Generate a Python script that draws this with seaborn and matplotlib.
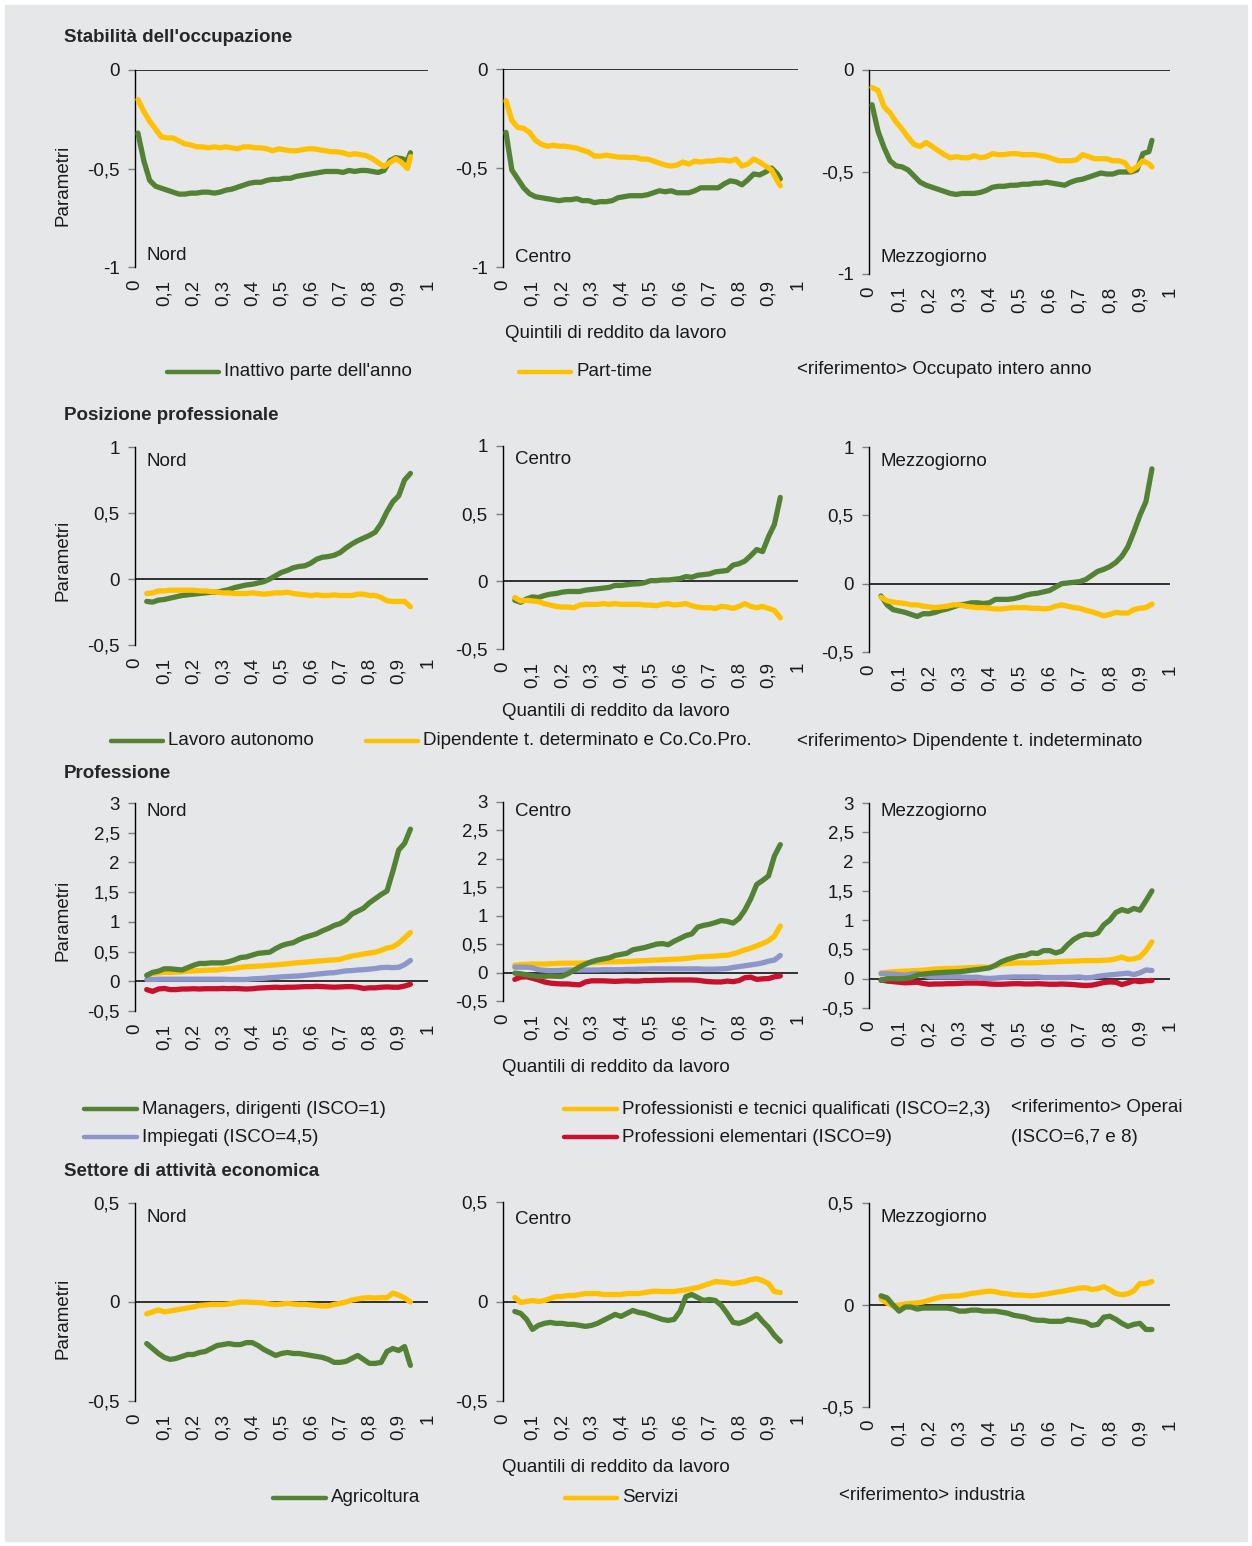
"""Parametri per quantili di reddito da lavoro: 4 blocchi x 3 ripartizioni."""

import matplotlib
matplotlib.use("Agg")
import matplotlib.pyplot as plt
from matplotlib.lines import Line2D
from matplotlib.patches import Rectangle
import numpy as np
import pandas as pd
import seaborn as sns

W, H = 1252, 1546

GREEN = "#548235"
YELLOW = "#FFC000"
LILAC = "#8C96C8"
RED = "#C8102E"
BG = "#E6E7E8"

REGIONS = ["Nord", "Centro", "Mezzogiorno"]

# quantile grids
X1 = np.append(np.arange(1, 95, 2), 94) / 100   # 0.01 .. 0.93, 0.94
X2 = np.arange(4, 96, 2) / 100                  # 0.04 .. 0.94

# --- Stabilità dell'occupazione --------------------------------------------
inattivo = {
    "Nord": [-0.32, -0.46, -0.56, -0.59, -0.60, -0.61, -0.62, -0.63,
             -0.63, -0.625, -0.625, -0.62, -0.62, -0.625, -0.62, -0.61,
             -0.605, -0.595, -0.585, -0.575, -0.57, -0.57, -0.56, -0.555,
             -0.555, -0.55, -0.55, -0.54, -0.535, -0.53, -0.525, -0.52,
             -0.515, -0.515, -0.515, -0.52, -0.51, -0.515, -0.51, -0.51,
             -0.515, -0.52, -0.51, -0.46, -0.445, -0.45, -0.46, -0.42],
    "Centro": [-0.32, -0.51, -0.555, -0.60, -0.63, -0.645, -0.65, -0.655,
               -0.66, -0.665, -0.66, -0.66, -0.655, -0.665, -0.665, -0.675,
               -0.67, -0.67, -0.665, -0.65, -0.645, -0.64, -0.64, -0.64,
               -0.635, -0.625, -0.615, -0.62, -0.615, -0.625, -0.625, -0.625,
               -0.615, -0.60, -0.60, -0.60, -0.60, -0.58, -0.565, -0.57,
               -0.585, -0.56, -0.53, -0.535, -0.52, -0.50, -0.53, -0.555],
    "Mezzogiorno": [-0.17, -0.30, -0.38, -0.445, -0.47, -0.475, -0.49, -0.52,
                    -0.55, -0.565, -0.575, -0.585, -0.595, -0.605, -0.61, -0.605,
                    -0.605, -0.605, -0.60, -0.59, -0.575, -0.57, -0.57, -0.565,
                    -0.565, -0.56, -0.56, -0.555, -0.555, -0.55, -0.555, -0.56,
                    -0.565, -0.55, -0.54, -0.535, -0.525, -0.515, -0.505, -0.51,
                    -0.51, -0.50, -0.50, -0.50, -0.49, -0.41, -0.40, -0.345],
}
part_time = {
    "Nord": [-0.15, -0.21, -0.26, -0.30, -0.34, -0.345, -0.345, -0.36,
             -0.375, -0.38, -0.39, -0.39, -0.395, -0.39, -0.395, -0.39,
             -0.395, -0.40, -0.39, -0.39, -0.395, -0.395, -0.40, -0.41,
             -0.40, -0.405, -0.41, -0.41, -0.405, -0.40, -0.40, -0.405,
             -0.41, -0.415, -0.415, -0.42, -0.43, -0.425, -0.43, -0.435,
             -0.45, -0.47, -0.49, -0.47, -0.45, -0.47, -0.50, -0.44],
    "Centro": [-0.16, -0.26, -0.295, -0.30, -0.32, -0.36, -0.38, -0.39,
               -0.385, -0.39, -0.39, -0.395, -0.40, -0.41, -0.42, -0.44,
               -0.44, -0.435, -0.44, -0.445, -0.445, -0.447, -0.447, -0.455,
               -0.455, -0.465, -0.475, -0.485, -0.49, -0.485, -0.47, -0.48,
               -0.465, -0.47, -0.465, -0.465, -0.46, -0.46, -0.465, -0.455,
               -0.49, -0.48, -0.455, -0.47, -0.49, -0.51, -0.565, -0.59],
    "Mezzogiorno": [-0.085, -0.10, -0.18, -0.21, -0.255, -0.29, -0.33, -0.365,
                    -0.375, -0.355, -0.375, -0.395, -0.415, -0.43, -0.425, -0.43,
                    -0.43, -0.42, -0.43, -0.425, -0.41, -0.415, -0.415, -0.41,
                    -0.41, -0.415, -0.415, -0.415, -0.42, -0.425, -0.435, -0.445,
                    -0.445, -0.445, -0.44, -0.415, -0.425, -0.435, -0.435, -0.435,
                    -0.445, -0.445, -0.455, -0.495, -0.475, -0.445, -0.46, -0.475],
}

# --- Posizione professionale -----------------------------------------------
autonomo = {
    "Nord": [-0.17, -0.175, -0.16, -0.155, -0.145, -0.135, -0.125, -0.12,
             -0.115, -0.11, -0.105, -0.10, -0.10, -0.09, -0.08, -0.065,
             -0.055, -0.045, -0.04, -0.03, -0.02, 0.00, 0.025, 0.05,
             0.065, 0.085, 0.095, 0.10, 0.12, 0.15, 0.165, 0.17,
             0.18, 0.20, 0.235, 0.265, 0.29, 0.31, 0.33, 0.355,
             0.42, 0.51, 0.585, 0.63, 0.75, 0.80],
    "Centro": [-0.14, -0.155, -0.13, -0.115, -0.12, -0.105, -0.095, -0.09,
               -0.08, -0.075, -0.075, -0.075, -0.065, -0.06, -0.055, -0.05,
               -0.045, -0.03, -0.03, -0.025, -0.02, -0.018, -0.01, 0.005,
               0.005, 0.01, 0.01, 0.015, 0.02, 0.035, 0.03, 0.045,
               0.05, 0.055, 0.07, 0.075, 0.08, 0.12, 0.13, 0.15,
               0.19, 0.235, 0.22, 0.33, 0.42, 0.62],
    "Mezzogiorno": [-0.09, -0.155, -0.19, -0.20, -0.21, -0.225, -0.24, -0.22,
                    -0.22, -0.21, -0.195, -0.185, -0.17, -0.155, -0.15, -0.14,
                    -0.14, -0.145, -0.14, -0.115, -0.115, -0.115, -0.11, -0.10,
                    -0.085, -0.075, -0.07, -0.06, -0.05, -0.025, 0.0, 0.005,
                    0.01, 0.015, 0.03, 0.06, 0.09, 0.105, 0.125, 0.155,
                    0.20, 0.27, 0.38, 0.50, 0.60, 0.84],
}
determinato = {
    "Nord": [-0.11, -0.105, -0.09, -0.09, -0.085, -0.085, -0.085, -0.085,
             -0.085, -0.09, -0.09, -0.095, -0.10, -0.105, -0.105, -0.11,
             -0.11, -0.11, -0.105, -0.11, -0.115, -0.11, -0.105, -0.105,
             -0.10, -0.11, -0.115, -0.12, -0.125, -0.12, -0.125, -0.125,
             -0.12, -0.125, -0.125, -0.125, -0.115, -0.115, -0.125, -0.125,
             -0.14, -0.165, -0.17, -0.17, -0.17, -0.21],
    "Centro": [-0.12, -0.145, -0.14, -0.145, -0.15, -0.165, -0.175, -0.185,
               -0.19, -0.19, -0.195, -0.175, -0.17, -0.17, -0.17, -0.165,
               -0.17, -0.165, -0.17, -0.17, -0.17, -0.17, -0.175, -0.175,
               -0.18, -0.17, -0.165, -0.175, -0.17, -0.165, -0.18, -0.19,
               -0.195, -0.195, -0.20, -0.185, -0.19, -0.20, -0.185, -0.165,
               -0.185, -0.195, -0.185, -0.20, -0.215, -0.27],
    "Mezzogiorno": [-0.10, -0.125, -0.135, -0.14, -0.145, -0.155, -0.155, -0.165,
                    -0.17, -0.175, -0.17, -0.165, -0.155, -0.155, -0.165, -0.17,
                    -0.175, -0.175, -0.18, -0.185, -0.185, -0.18, -0.175, -0.175,
                    -0.175, -0.18, -0.18, -0.185, -0.18, -0.165, -0.155, -0.165,
                    -0.175, -0.18, -0.195, -0.205, -0.22, -0.235, -0.225, -0.21,
                    -0.215, -0.215, -0.19, -0.18, -0.175, -0.15],
}

# --- Professione ------------------------------------------------------------
managers = {
    "Nord": [0.10, 0.15, 0.17, 0.21, 0.21, 0.20, 0.19, 0.23,
             0.27, 0.30, 0.30, 0.31, 0.31, 0.31, 0.33, 0.36,
             0.40, 0.41, 0.44, 0.47, 0.48, 0.49, 0.55, 0.60,
             0.63, 0.65, 0.70, 0.74, 0.77, 0.80, 0.85, 0.89,
             0.94, 0.97, 1.03, 1.13, 1.18, 1.23, 1.32, 1.39,
             1.46, 1.52, 1.85, 2.21, 2.32, 2.56],
    "Centro": [-0.01, -0.02, -0.04, -0.055, -0.07, -0.065, -0.06, -0.065,
               -0.065, -0.02, 0.04, 0.10, 0.15, 0.19, 0.22, 0.24,
               0.26, 0.30, 0.32, 0.34, 0.40, 0.42, 0.44, 0.47,
               0.50, 0.51, 0.49, 0.55, 0.60, 0.65, 0.68, 0.80,
               0.83, 0.85, 0.88, 0.915, 0.90, 0.87, 0.95, 1.10,
               1.30, 1.55, 1.62, 1.70, 2.05, 2.25],
    "Mezzogiorno": [-0.03, 0.0, 0.0, 0.0, 0.005, 0.02, 0.06, 0.08,
                    0.09, 0.10, 0.105, 0.11, 0.115, 0.12, 0.13, 0.145,
                    0.155, 0.17, 0.185, 0.23, 0.29, 0.33, 0.36, 0.39,
                    0.40, 0.44, 0.43, 0.48, 0.48, 0.44, 0.47, 0.58,
                    0.67, 0.73, 0.76, 0.75, 0.78, 0.92, 1.0, 1.13,
                    1.18, 1.15, 1.20, 1.17, 1.33, 1.50],
}
professionisti = {
    "Nord": [0.10, 0.13, 0.14, 0.15, 0.15, 0.155, 0.16, 0.17,
             0.175, 0.18, 0.185, 0.19, 0.19, 0.205, 0.21, 0.22,
             0.235, 0.245, 0.25, 0.255, 0.26, 0.27, 0.275, 0.285,
             0.295, 0.305, 0.315, 0.32, 0.33, 0.34, 0.345, 0.355,
             0.36, 0.37, 0.40, 0.425, 0.44, 0.46, 0.475, 0.49,
             0.52, 0.56, 0.58, 0.64, 0.73, 0.82],
    "Centro": [0.13, 0.14, 0.145, 0.15, 0.15, 0.15, 0.155, 0.16,
               0.165, 0.165, 0.165, 0.165, 0.17, 0.175, 0.18, 0.185,
               0.19, 0.19, 0.195, 0.195, 0.20, 0.205, 0.21, 0.215,
               0.22, 0.225, 0.23, 0.235, 0.24, 0.25, 0.26, 0.275,
               0.28, 0.285, 0.29, 0.30, 0.305, 0.33, 0.36, 0.40,
               0.43, 0.47, 0.51, 0.56, 0.64, 0.82],
    "Mezzogiorno": [0.10, 0.11, 0.12, 0.125, 0.13, 0.135, 0.14, 0.145,
                    0.155, 0.165, 0.17, 0.175, 0.175, 0.18, 0.185, 0.19,
                    0.195, 0.20, 0.19, 0.22, 0.25, 0.26, 0.265, 0.27,
                    0.27, 0.27, 0.275, 0.28, 0.285, 0.29, 0.295, 0.30,
                    0.30, 0.305, 0.31, 0.31, 0.31, 0.315, 0.32, 0.34,
                    0.37, 0.33, 0.34, 0.37, 0.48, 0.63],
}
impiegati = {
    "Nord": [0.03, 0.03, 0.035, 0.035, 0.035, 0.035, 0.035, 0.035,
             0.035, 0.035, 0.035, 0.035, 0.035, 0.035, 0.03, 0.03,
             0.03, 0.03, 0.04, 0.045, 0.05, 0.06, 0.065, 0.075,
             0.08, 0.085, 0.09, 0.10, 0.11, 0.12, 0.13, 0.14,
             0.145, 0.16, 0.175, 0.18, 0.19, 0.195, 0.205, 0.215,
             0.23, 0.235, 0.23, 0.235, 0.28, 0.35],
    "Centro": [0.095, 0.095, 0.095, 0.085, 0.05, 0.04, 0.035, 0.035,
               0.04, 0.045, 0.045, 0.045, 0.045, 0.045, 0.045, 0.05,
               0.05, 0.05, 0.05, 0.055, 0.055, 0.06, 0.06, 0.065,
               0.065, 0.065, 0.065, 0.065, 0.065, 0.065, 0.065, 0.065,
               0.06, 0.06, 0.06, 0.065, 0.07, 0.09, 0.105, 0.12,
               0.135, 0.15, 0.17, 0.20, 0.22, 0.30],
    "Mezzogiorno": [0.085, 0.085, 0.08, 0.07, 0.06, 0.08, 0.09, 0.06,
                    0.035, 0.03, 0.03, 0.03, 0.03, 0.03, 0.025, 0.025,
                    0.025, 0.01, 0.005, 0.01, 0.02, 0.025, 0.03, 0.03,
                    0.03, 0.03, 0.03, 0.02, 0.02, 0.02, 0.02, 0.02,
                    0.025, 0.03, 0.015, 0.02, 0.04, 0.055, 0.065, 0.075,
                    0.085, 0.095, 0.07, 0.10, 0.15, 0.14],
}
elementari = {
    "Nord": [-0.14, -0.17, -0.13, -0.12, -0.14, -0.14, -0.13, -0.13,
             -0.125, -0.13, -0.125, -0.125, -0.125, -0.12, -0.125, -0.12,
             -0.125, -0.13, -0.125, -0.115, -0.11, -0.105, -0.10, -0.105,
             -0.10, -0.10, -0.095, -0.09, -0.09, -0.085, -0.09, -0.095,
             -0.10, -0.095, -0.09, -0.09, -0.10, -0.12, -0.11, -0.11,
             -0.10, -0.095, -0.10, -0.10, -0.08, -0.05],
    "Centro": [-0.12, -0.08, -0.075, -0.10, -0.13, -0.165, -0.185, -0.195,
               -0.20, -0.20, -0.21, -0.215, -0.165, -0.145, -0.145, -0.145,
               -0.15, -0.155, -0.15, -0.145, -0.15, -0.15, -0.14, -0.14,
               -0.135, -0.135, -0.13, -0.13, -0.13, -0.13, -0.13, -0.135,
               -0.15, -0.16, -0.165, -0.165, -0.15, -0.16, -0.14, -0.09,
               -0.08, -0.12, -0.11, -0.105, -0.075, -0.06],
    "Mezzogiorno": [-0.02, -0.04, -0.05, -0.06, -0.07, -0.065, -0.06, -0.08,
                    -0.095, -0.09, -0.09, -0.085, -0.085, -0.08, -0.075, -0.075,
                    -0.075, -0.08, -0.09, -0.095, -0.095, -0.09, -0.085, -0.085,
                    -0.09, -0.09, -0.085, -0.09, -0.095, -0.095, -0.09, -0.095,
                    -0.10, -0.11, -0.115, -0.11, -0.09, -0.065, -0.055, -0.06,
                    -0.10, -0.07, -0.035, -0.05, -0.035, -0.03],
}

# --- Settore di attività economica -----------------------------------------
agricoltura = {
    "Nord": [-0.21, -0.235, -0.26, -0.28, -0.29, -0.285, -0.275, -0.265,
             -0.265, -0.255, -0.25, -0.235, -0.22, -0.215, -0.21, -0.215,
             -0.215, -0.205, -0.205, -0.22, -0.24, -0.255, -0.27, -0.26,
             -0.255, -0.26, -0.26, -0.265, -0.27, -0.275, -0.28, -0.29,
             -0.305, -0.305, -0.30, -0.285, -0.27, -0.29, -0.31, -0.31,
             -0.305, -0.25, -0.235, -0.245, -0.225, -0.32],
    "Centro": [-0.05, -0.06, -0.09, -0.14, -0.12, -0.11, -0.105, -0.11,
               -0.11, -0.115, -0.115, -0.12, -0.125, -0.12, -0.11, -0.095,
               -0.08, -0.065, -0.075, -0.06, -0.045, -0.055, -0.06, -0.07,
               -0.08, -0.09, -0.095, -0.09, -0.05, 0.025, 0.035, 0.02,
               0.005, 0.01, 0.005, -0.02, -0.06, -0.105, -0.11, -0.10,
               -0.085, -0.065, -0.10, -0.13, -0.17, -0.20],
    "Mezzogiorno": [0.045, 0.035, 0.0, -0.03, -0.01, -0.01, -0.02, -0.015,
                    -0.015, -0.015, -0.015, -0.015, -0.02, -0.03, -0.03, -0.025,
                    -0.025, -0.03, -0.03, -0.03, -0.035, -0.04, -0.05, -0.055,
                    -0.06, -0.07, -0.075, -0.075, -0.08, -0.08, -0.08, -0.07,
                    -0.075, -0.08, -0.085, -0.10, -0.095, -0.06, -0.055, -0.07,
                    -0.09, -0.105, -0.095, -0.09, -0.12, -0.12],
}
servizi = {
    "Nord": [-0.06, -0.05, -0.04, -0.05, -0.045, -0.04, -0.035, -0.03,
             -0.025, -0.017, -0.015, -0.012, -0.012, -0.012, -0.01, -0.005,
             0.0, 0.0, -0.002, -0.003, -0.005, -0.01, -0.012, -0.01,
             -0.007, -0.01, -0.012, -0.012, -0.015, -0.017, -0.02, -0.02,
             -0.012, -0.007, 0.0, 0.01, 0.015, 0.02, 0.022, 0.02,
             0.022, 0.022, 0.045, 0.035, 0.02, 0.0],
    "Centro": [0.02, -0.005, 0.0, 0.005, 0.0, 0.005, 0.015, 0.025,
               0.025, 0.03, 0.03, 0.035, 0.04, 0.04, 0.04, 0.035,
               0.035, 0.035, 0.035, 0.04, 0.04, 0.04, 0.045, 0.05,
               0.052, 0.05, 0.05, 0.05, 0.055, 0.058, 0.065, 0.07,
               0.08, 0.09, 0.10, 0.098, 0.095, 0.09, 0.095, 0.10,
               0.11, 0.115, 0.105, 0.09, 0.05, 0.045],
    "Mezzogiorno": [0.03, 0.01, -0.005, 0.0, 0.005, 0.008, 0.01, 0.015,
                    0.024, 0.032, 0.04, 0.042, 0.044, 0.045, 0.05, 0.057,
                    0.06, 0.065, 0.068, 0.065, 0.058, 0.055, 0.05, 0.049,
                    0.047, 0.045, 0.048, 0.052, 0.057, 0.062, 0.066, 0.072,
                    0.078, 0.083, 0.085, 0.076, 0.08, 0.09, 0.075, 0.057,
                    0.05, 0.055, 0.07, 0.105, 0.105, 0.115],
}

# --- layout (pixel boxes: left, top, right, bottom) ------------------------
BLOCKS = [
    dict(title="Stabilità dell'occupazione", title_y=38, x=X1,
         series=[("Inattivo parte dell'anno", GREEN, inattivo),
                 ("Part-time", YELLOW, part_time)],
         ylim=(-1, 0), yticks=[-1, -0.5, 0],
         boxes=[(135, 70, 428, 267), (503, 69, 798, 267), (869, 70, 1170, 274)],
         region_y=[255, 257, 258], ylab_y=185,
         xlabel="Quintili di reddito da lavoro", xlabel_y=333),
    dict(title="Posizione professionale", title_y=415, x=X2,
         series=[("Lavoro autonomo", GREEN, autonomo),
                 ("Dipendente t. determinato e Co.Co.Pro.", YELLOW, determinato)],
         ylim=(-0.5, 1), yticks=[-0.5, 0, 0.5, 1],
         boxes=[(135, 447, 428, 645), (503, 446, 798, 649), (869, 447, 1170, 652)],
         region_y=[461, 460, 462], ylab_y=560,
         xlabel="Quantili di reddito da lavoro", xlabel_y=711),
    dict(title="Professione", title_y=773, x=X2,
         series=[("Professionisti e tecnici qualificati (ISCO=2,3)", YELLOW, professionisti),
                 ("Impiegati (ISCO=4,5)", LILAC, impiegati),
                 ("Professioni elementari (ISCO=9)", RED, elementari),
                 ("Managers, dirigenti (ISCO=1)", GREEN, managers)],
         ylim=(-0.5, 3), yticks=[-0.5, 0, 0.5, 1, 1.5, 2, 2.5, 3],
         boxes=[(135, 803, 428, 1011), (503, 802, 798, 1001), (869, 803, 1170, 1008)],
         region_y=[812, 811, 812], ylab_y=920,
         xlabel="Quantili di reddito da lavoro", xlabel_y=1068),
    dict(title="Settore di attività economica", title_y=1171, x=X2,
         series=[("Servizi", YELLOW, servizi),
                 ("Agricoltura", GREEN, agricoltura)],
         ylim=(-0.5, 0.5), yticks=[-0.5, 0, 0.5],
         boxes=[(135, 1203, 428, 1401), (503, 1202, 798, 1401), (869, 1203, 1170, 1407)],
         region_y=[1218, 1219, 1218], ylab_y=1318,
         xlabel="Quantili di reddito da lavoro", xlabel_y=1467),
]

# legend entries: (line x0, line x1, y, label, colour)
LEGEND_LINES = [
    (167, 219, 372, "Inattivo parte dell'anno", GREEN),
    (519, 571, 372, "Part-time", YELLOW),
    (111, 163, 741, "Lavoro autonomo", GREEN),
    (366, 418, 741, "Dipendente t. determinato e Co.Co.Pro.", YELLOW),
    (84, 137, 1109, "Managers, dirigenti (ISCO=1)", GREEN),
    (564, 617, 1109, "Professionisti e tecnici qualificati (ISCO=2,3)", YELLOW),
    (84, 137, 1137, "Impiegati (ISCO=4,5)", LILAC),
    (564, 617, 1137, "Professioni elementari (ISCO=9)", RED),
    (273, 326, 1498, "Agricoltura", GREEN),
    (565, 617, 1498, "Servizi", YELLOW),
]
LEGEND_NOTES = [
    (797, 370, "<riferimento> Occupato intero anno"),
    (797, 742, "<riferimento> Dipendente t. indeterminato"),
    (1011, 1108, "<riferimento> Operai"),
    (1011, 1138, "(ISCO=6,7 e 8)"),
    (839, 1495, "<riferimento> industria"),
]

sns.set_theme(style="white")
plt.rcParams["font.family"] = ["Liberation Sans", "DejaVu Sans"]
FS = 13.5
plt.rcParams["font.size"] = FS


def fx(x):
    return x / W


def fy(y):
    return 1 - y / H


def comma(v):
    return f"{v:g}".replace(".", ",")


fig = plt.figure(figsize=(W / 100, H / 100), dpi=100, facecolor="white")
fig.patches.append(Rectangle((fx(5), fy(1541)), (W - 10) / W, (H - 10) / H,
                             transform=fig.transFigure, color=BG, zorder=-10))

for block in BLOCKS:
    fig.text(fx(64), fy(block["title_y"]), block["title"], fontsize=FS,
             fontweight="bold", ha="left", va="center")
    for i, region in enumerate(REGIONS):
        l, t, r, b = block["boxes"][i]
        ax = fig.add_axes([fx(l), fy(b), (r - l) / W, (b - t) / H])
        ax.set_facecolor("none")

        frames = []
        for name, color, values in block["series"]:
            frames.append(pd.DataFrame({"q": block["x"], "val": values[region],
                                        "serie": name}))
        df = pd.concat(frames, ignore_index=True)
        names = [s[0] for s in block["series"]]
        palette = {s[0]: s[1] for s in block["series"]}
        sns.lineplot(data=df, x="q", y="val", hue="serie", hue_order=names,
                     palette=palette, estimator=None, sort=False, legend=False,
                     linewidth=3.8, solid_capstyle="round", ax=ax, zorder=3)

        ax.axhline(0, color="black", lw=1.1, zorder=2)
        ax.set_xlim(0, 1)
        ax.set_ylim(*block["ylim"])
        xt = np.round(np.arange(0, 1.01, 0.1), 1)
        ax.set_xticks(xt)
        ax.set_xticklabels([comma(v) for v in xt], rotation=90, fontsize=FS)
        ax.set_yticks(block["yticks"])
        ax.set_yticklabels([comma(v) for v in block["yticks"]], fontsize=FS)
        ax.tick_params(axis="x", length=0, pad=9, colors="#1a1a1a")
        ax.tick_params(axis="y", length=5, width=1, direction="out", pad=6,
                       color="#7f7f7f", labelcolor="#1a1a1a", left=True)
        ax.set_xlabel("")
        ax.set_ylabel("")
        for side in ("top", "right", "bottom"):
            ax.spines[side].set_visible(False)
        ax.spines["left"].set_color("black")
        ax.spines["left"].set_linewidth(1)
        ax.grid(False)

        fig.text(fx(l + 12), fy(block["region_y"][i]), region, fontsize=FS,
                 ha="left", va="center", color="#1a1a1a")

    fig.text(fx(63), fy(block["ylab_y"]), "Parametri", rotation=90,
             fontsize=FS, ha="center", va="center", color="#1a1a1a")
    fig.text(fx(616), fy(block["xlabel_y"]), block["xlabel"], fontsize=FS,
             ha="center", va="center", color="#1a1a1a")

for x0, x1, y, label, color in LEGEND_LINES:
    fig.add_artist(Line2D([fx(x0), fx(x1)], [fy(y), fy(y)], color=color,
                          lw=3.2, transform=fig.transFigure))
    fig.text(fx(x1 + 5), fy(y), label, fontsize=FS, ha="left", va="center",
             color="#1a1a1a")

for x, y, label in LEGEND_NOTES:
    fig.text(fx(x), fy(y), label, fontsize=FS, ha="left", va="center",
             color="#1a1a1a")

fig.savefig("out.png", dpi=100, facecolor="white")
plt.close(fig)
